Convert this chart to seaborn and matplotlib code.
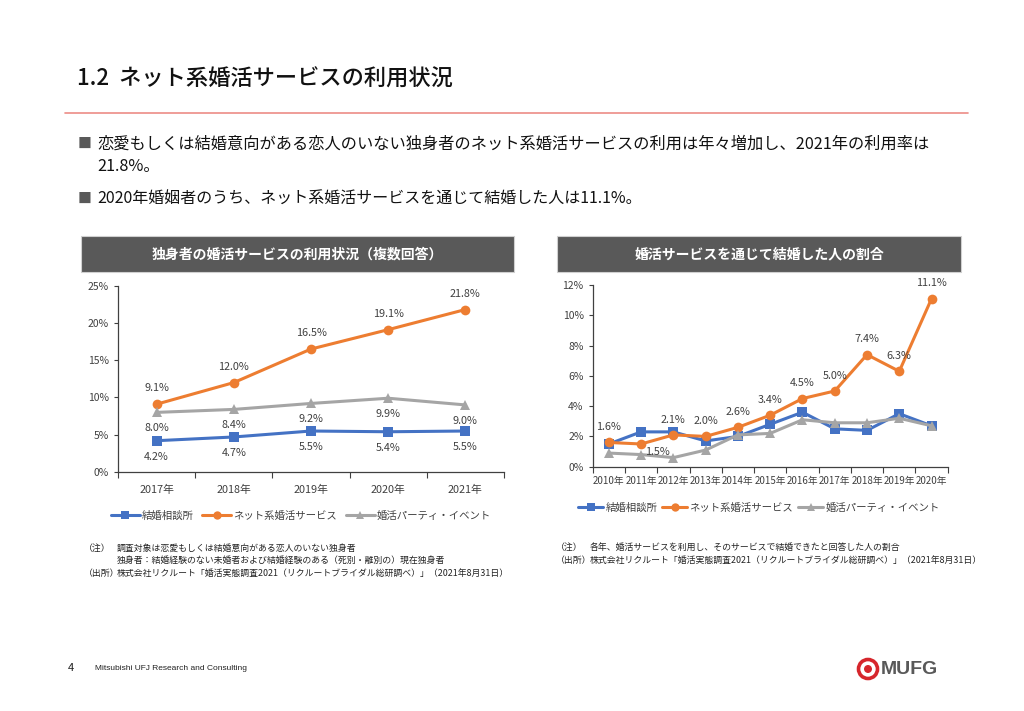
import numpy as np
import pandas as pd
import matplotlib
matplotlib.use("Agg")
import matplotlib.pyplot as plt
from matplotlib.patches import Rectangle, Ellipse
from matplotlib.ticker import FixedLocator, PercentFormatter
import seaborn as sns

# data: left chart (singles using konkatsu services, multiple answers)
years_left = ["2017年", "2018年", "2019年", "2020年", "2021年"]
soudansho_left = [4.2, 4.7, 5.5, 5.4, 5.5]
net_left = [9.1, 12.0, 16.5, 19.1, 21.8]
party_left = [8.0, 8.4, 9.2, 9.9, 9.0]

# data: right chart (share of married people who met through each service)
years_right = ["2010年", "2011年", "2012年", "2013年", "2014年", "2015年",
               "2016年", "2017年", "2018年", "2019年", "2020年"]
soudansho_right = [1.5, 2.3, 2.3, 1.7, 2.0, 2.8, 3.6, 2.5, 2.4, 3.5, 2.7]
net_right = [1.6, 1.5, 2.1, 2.0, 2.6, 3.4, 4.5, 5.0, 7.4, 6.3, 11.1]
party_right = [0.9, 0.8, 0.6, 1.1, 2.1, 2.2, 3.1, 2.9, 2.9, 3.2, 2.7]

series_names = ["結婚相談所", "ネット系婚活サービス", "婚活パーティ・イベント"]
colors = {"結婚相談所": "#4472C4", "ネット系婚活サービス": "#ED7D31",
          "婚活パーティ・イベント": "#A5A5A5"}
markers = {"結婚相談所": "s", "ネット系婚活サービス": "o",
           "婚活パーティ・イベント": "^"}

sns.set_style("white")
plt.rcParams['font.family'] = ['Noto Sans CJK JP', 'DejaVu Sans']

W, H = 1024, 711
fig = plt.figure(figsize=(W / 100, H / 100), dpi=100)


def px(x, y):
    return x / W, 1 - y / H


def make_df(years, cols):
    rows = []
    for name, vals in zip(series_names, cols):
        for i, (yr, v) in enumerate(zip(years, vals)):
            rows.append({"pos": i, "year": yr, "series": name, "value": v})
    return pd.DataFrame(rows)


def draw_chart(ax, years, cols, ymax, ystep, tick_pad, xsize):
    df = make_df(years, cols)
    sns.lineplot(data=df, x="pos", y="value", hue="series", style="series",
                 palette=colors, markers=markers, dashes=False, linewidth=2.2,
                 markersize=7, markeredgewidth=0, ax=ax, legend=False,
                 hue_order=series_names, style_order=series_names)
    n = len(years)
    ax.set_xlim(-0.5, n - 0.5)
    ax.set_ylim(0, ymax)
    ax.set_xticks(range(n))
    ax.set_xticklabels(years)
    ax.xaxis.set_minor_locator(FixedLocator(np.arange(-0.5, n, 1.0)))
    ax.set_yticks(np.arange(0, ymax + 0.01, ystep))
    ax.yaxis.set_major_formatter(PercentFormatter(decimals=0))
    ax.tick_params(axis="x", which="major", length=0, pad=tick_pad,
                   labelsize=xsize, labelcolor="#404040")
    ax.tick_params(axis="x", which="minor", length=4, width=0.8,
                   color="#404040", direction="out", bottom=True)
    ax.tick_params(axis="y", length=3, width=0.8, color="#404040",
                   labelsize=7.5, labelcolor="#404040", left=True)
    for s in ["top", "right"]:
        ax.spines[s].set_visible(False)
    for s in ["left", "bottom"]:
        ax.spines[s].set_color("#404040")
        ax.spines[s].set_linewidth(0.9)
    ax.set_xlabel("")
    ax.set_ylabel("")
    return df


def label(ax, x, y, dx=0, dy=11):
    ax.annotate(f"{y:.1f}%", (x, y), xytext=(dx, dy), textcoords="offset points",
                ha="center", va="center", fontsize=7.8, color="#404040")


# left chart
axL = fig.add_axes([118 / W, 1 - 472 / H, 386 / W, (472 - 285.7) / H])
draw_chart(axL, years_left, [soudansho_left, net_left, party_left], 25, 5, 9, 7.8)
for i in range(len(years_left)):
    label(axL, i, net_left[i], dy=11.5)
    label(axL, i, party_left[i], dy=-11.5)
    label(axL, i, soudansho_left[i], dy=-11.5)

# right chart
axR = fig.add_axes([592.7 / W, 1 - 466.7 / H, 355 / W, (466.7 - 285) / H])
draw_chart(axR, years_right, [soudansho_right, net_right, party_right], 12, 2, 7, 7.0)
for i in range(len(years_right)):
    if i == 1:
        label(axR, i, net_right[i], dx=12, dy=-6)
    else:
        label(axR, i, net_right[i], dy=11)

# legends
for ax, cx, cy, hl, cs in [(axL, 301, 516, 2.8, 0.8), (axR, 759, 508, 2.4, 0.5)]:
    handles = [plt.Line2D([], [], color=colors[n], marker=markers[n], lw=2.2,
                          markersize=6, markeredgewidth=0) for n in series_names]
    fig.legend(handles, series_names, loc="center", bbox_to_anchor=px(cx, cy),
               ncol=3, frameon=False, fontsize=7.5, handlelength=hl,
               handletextpad=0.2, columnspacing=cs, labelcolor="#404040")

# header bars
for x0, x1, txt in [(81, 514, "独身者の婚活サービスの利用状況（複数回答）"),
                    (557, 961, "婚活サービスを通じて結婚した人の割合")]:
    fig.patches.append(Rectangle(px(x0, 271.7), (x1 - x0) / W, 36 / H,
                                 transform=fig.transFigure, facecolor="#595959",
                                 edgecolor="#D0D0D0", lw=0.8))
    fig.text(*px((x0 + x1) / 2, 254), txt, ha="center", va="center",
             color="white", fontsize=10, fontweight="bold")

# title and bullets
fig.text(*px(77, 79), "1.2  ネット系婚活サービスの利用状況", fontsize=16,
         va="center", ha="left", color="#111111", fontweight="medium")
fig.add_artist(plt.Line2D([65 / W, 968 / W], [1 - 113 / H] * 2,
                          transform=fig.transFigure, color="#EC8C86", lw=1.2))
fig.text(*px(78, 144), "■", fontsize=10, va="center", color="#595959")
fig.text(*px(97, 144), "恋愛もしくは結婚意向がある恋人のいない独身者のネット系婚活サービスの利用は年々増加し、2021年の利用率は",
         fontsize=11.7, va="center", color="#111111")
fig.text(*px(97, 166), "21.8%。", fontsize=11.7, va="center", color="#111111")
fig.text(*px(78, 199), "■", fontsize=10, va="center", color="#595959")
fig.text(*px(97, 199), "2020年婚姻者のうち、ネット系婚活サービスを通じて結婚した人は11.1%。",
         fontsize=11.5, va="center", color="#111111")

# notes
note_kw = dict(fontsize=6.4, va="center", color="#222222")
fig.text(*px(84, 548), "（注）", **note_kw)
fig.text(*px(117, 548), "調査対象は恋愛もしくは結婚意向がある恋人のいない独身者", **note_kw)
fig.text(*px(117, 560), "独身者：結婚経験のない未婚者および結婚経験のある（死別・離別の）現在独身者", **note_kw)
fig.text(*px(84, 573), "（出所）", **note_kw)
fig.text(*px(117, 573), "株式会社リクルート「婚活実態調査2021（リクルートブライダル総研調べ）」（2021年8月31日）", **note_kw)
fig.text(*px(556, 547), "（注）", **note_kw)
fig.text(*px(590, 547), "各年、婚活サービスを利用し、そのサービスで結婚できたと回答した人の割合", **note_kw)
fig.text(*px(556, 560), "（出所）", **note_kw)
fig.text(*px(590, 560), "株式会社リクルート「婚活実態調査2021（リクルートブライダル総研調べ）」（2021年8月31日）", **note_kw)

# footer
fig.text(*px(68, 668), "4", fontsize=8, va="center", color="#222222")
fig.text(*px(95, 668), "Mitsubishi UFJ Research and Consulting", fontsize=6,
         va="center", color="#222222", family="Liberation Sans")
cx, cy = px(868, 669)
fig.patches.append(Ellipse((cx, cy), 19 / W, 19 / H, transform=fig.transFigure,
                           facecolor="white", edgecolor="#D6262C", lw=2.6))
fig.patches.append(Ellipse((cx, cy), 8 / W, 8 / H, transform=fig.transFigure,
                           facecolor="#D6262C", edgecolor="none"))
fig.text(*px(881, 669), "MUFG", fontsize=14, fontweight="bold", va="center",
         color="#595959", family="Liberation Sans")

fig.savefig("out.png", dpi=100, facecolor="white")
